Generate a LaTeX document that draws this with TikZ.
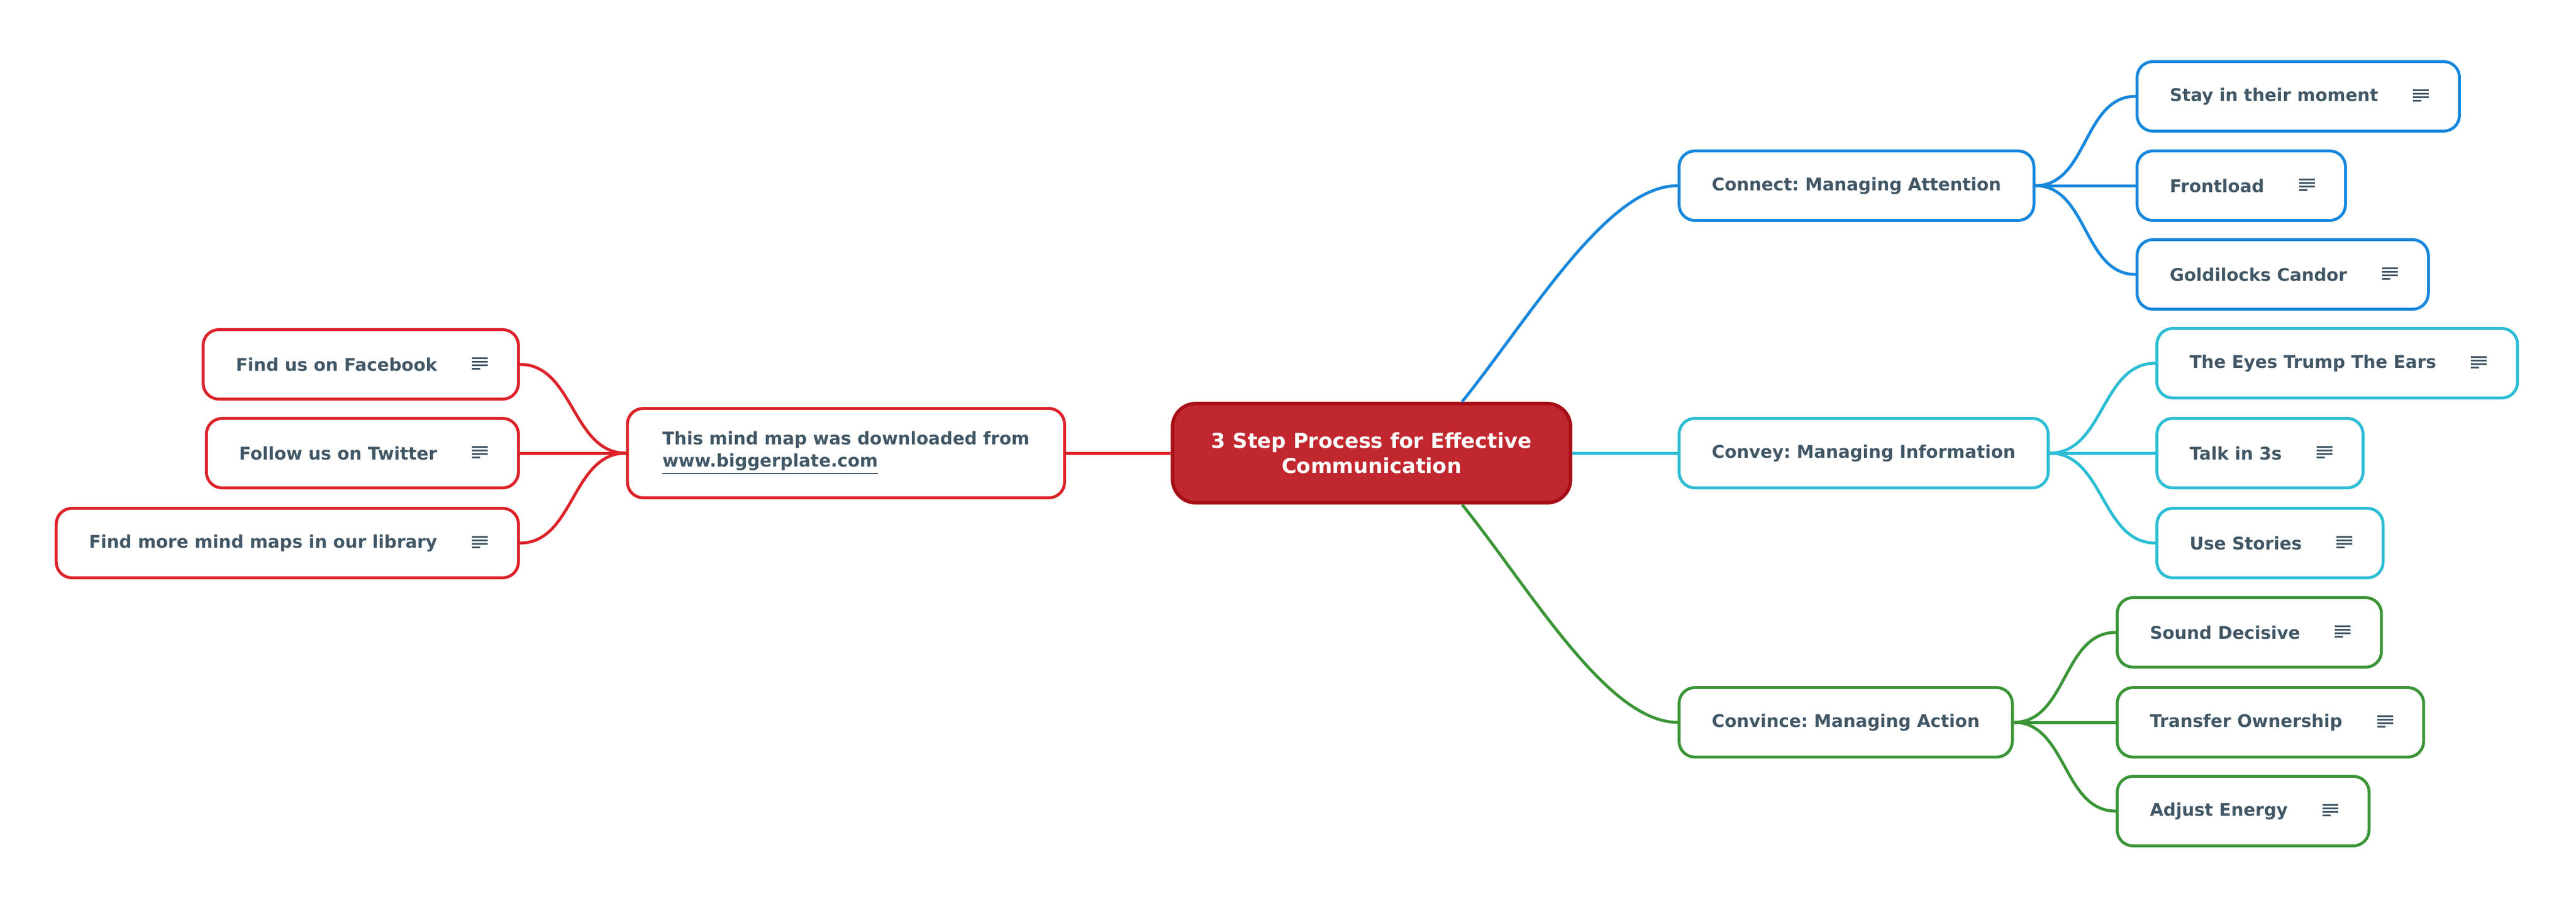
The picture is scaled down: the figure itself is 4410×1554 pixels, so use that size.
\documentclass[tikz,border=0pt]{standalone}
\usepackage{fontspec}
\setmainfont{DejaVu Sans}
\usetikzlibrary{positioning}
\usepackage{xcolor}
\frenchspacing

\definecolor{textcol}{HTML}{415766}
\definecolor{attn}{HTML}{1787DC}
\definecolor{info}{HTML}{2CBDD5}
\definecolor{action}{HTML}{3A9536}
\definecolor{promo}{HTML}{DD2229}
\definecolor{corefill}{HTML}{C1272E}
\definecolor{coreedge}{HTML}{A60F17}

\tikzset{
    core/.style={draw=coreedge, fill=corefill, line width=0.06cm, rounded corners=0.4cm,
        minimum width=6.81cm, minimum height=1.70cm, align=center, text=white,
        font=\fontsize{10}{12.2}\selectfont\bfseries},
    topic/.style={draw=#1, fill=white, line width=0.05cm, rounded corners=0.27cm,
        minimum height=1.19cm, inner xsep=0.56cm, text=textcol,
        font=\fontsize{8.5}{10.8}\selectfont\bfseries},
    leaf/.style={topic=#1, execute at end node={\hspace{0.83cm}}},
    link/.style={draw=#1, line width=0.05cm},
    note/.pic={
        \foreach \ly/\lw in {-11/27,-5/27,1/27,7/14}
            \draw[textcol, line width=0.03cm] (-27,\ly) -- ++(\lw,0);
    }
}

\begin{document}
\begin{tikzpicture}[x=0.01cm, y=-0.01cm]
            \useasboundingbox (0,0) rectangle (4410,1554);
            % centre
            \node[core] (ctr) at (2348,776) {3 Step Process for Effective\\Communication};
            % right side
            \node[topic=attn, anchor=west] (connect) at (2872,318) {Connect: Managing Attention};
            \node[leaf=attn, anchor=west] (stay) at (3656,165) {Stay in their moment};
            \node[leaf=attn, anchor=west] (front) at (3656,318) {Frontload};
            \node[leaf=attn, anchor=west] (goldi) at (3656,470) {Goldilocks Candor};
            \node[topic=info, anchor=west] (convey) at (2872,776) {Convey: Managing Information};
            \node[leaf=info, anchor=west] (eyes) at (3690,622) {The Eyes Trump The Ears};
            \node[leaf=info, anchor=west] (talk) at (3690,776) {Talk in 3s};
            \node[leaf=info, anchor=west] (stories) at (3690,930) {Use Stories};
            \node[topic=action, anchor=west] (convince) at (2872,1237) {Convince: Managing Action};
            \node[leaf=action, anchor=west] (sound) at (3622,1083) {Sound Decisive};
            \node[leaf=action, anchor=west] (transfer) at (3622,1237) {Transfer Ownership};
            \node[leaf=action, anchor=west] (adjust) at (3622,1389) {Adjust Energy};
            % left side
            \node[topic=promo, anchor=east, minimum width=7.48cm, minimum height=1.53cm, align=left]
                (down) at (1825,776) {This mind map was downloaded from\\\underline{www.biggerplate.com}};
            \node[leaf=promo, anchor=east] (facebook) at (890,624) {Find us on Facebook};
            \node[leaf=promo, anchor=east] (twitter) at (890,776) {Follow us on Twitter};
            \node[leaf=promo, anchor=east] (library) at (890,930) {Find more mind maps in our library};

            \foreach \n in {stay,front,goldi,eyes,talk,stories,sound,transfer,adjust,facebook,twitter,library}
                \pic at ([xshift=-0.55cm]\n.east) {note};

            % connectors
            \draw[link=attn] ([xshift=1.55cm]ctr.north) .. controls +(120,-150) and +(-120,0) .. (connect.west);
            \draw[link=info] (ctr.east) -- (convey.west);
            \draw[link=action] ([xshift=1.55cm]ctr.south) .. controls +(120,150) and +(-120,0) .. (convince.west);
            \draw[link=promo] (ctr.west) -- (down.east);
            \foreach \a/\b/\c in {connect/stay/attn, connect/front/attn, connect/goldi/attn,
                    convey/eyes/info, convey/talk/info, convey/stories/info,
                    convince/sound/action, convince/transfer/action, convince/adjust/action}
                \draw[link=\c] (\a.east) to[out=0, in=180] (\b.west);
            \foreach \b in {facebook,twitter,library}
                \draw[link=promo] (down.west) to[out=180, in=0] (\b.east);
        \end{tikzpicture}
\end{document}
